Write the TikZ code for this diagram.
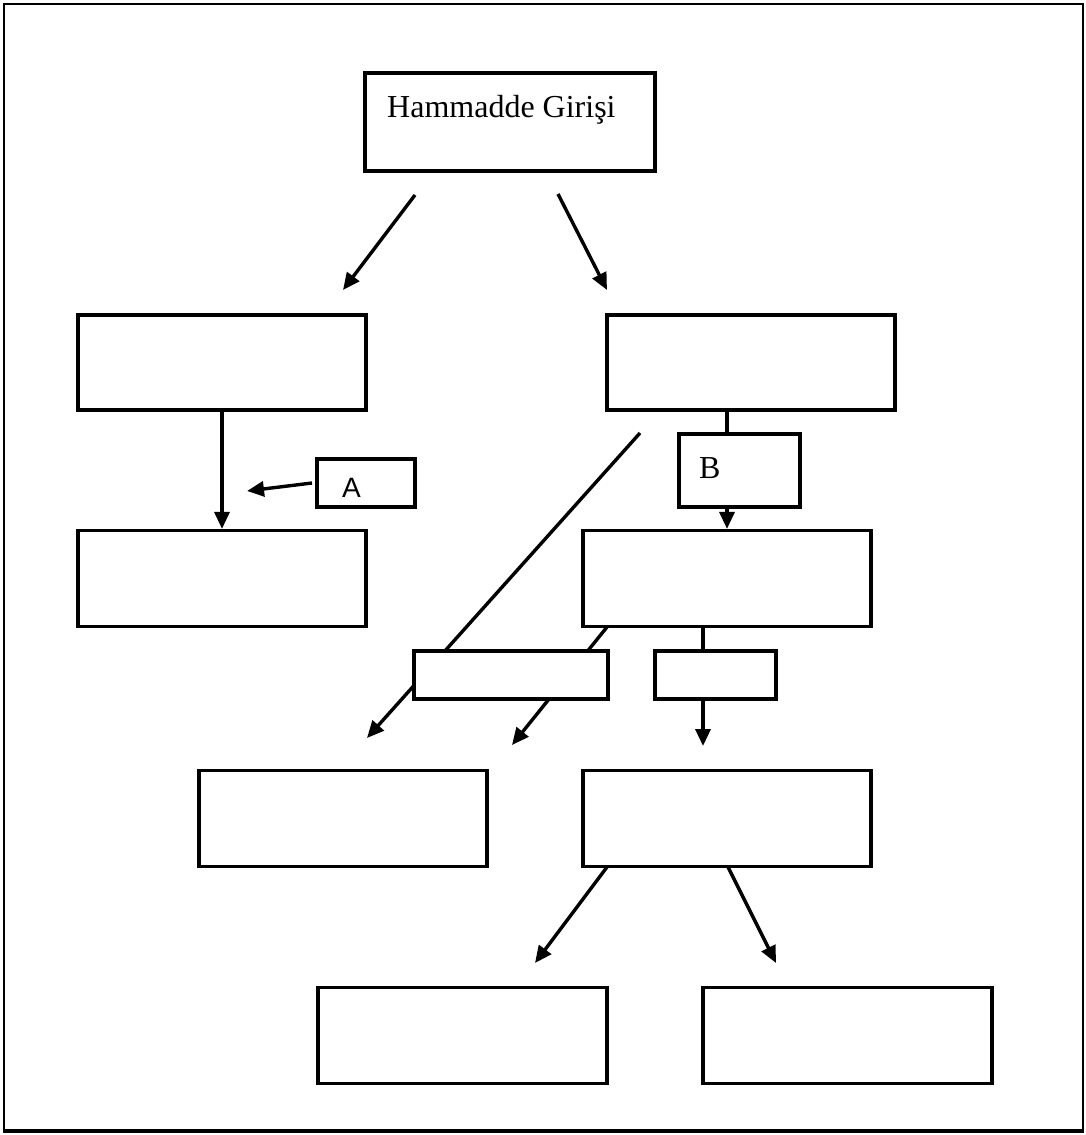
\documentclass[tikz,border=0pt]{standalone}
\usepackage{fontspec}
\setmainfont{Liberation Serif}
\setsansfont{Liberation Sans}
\usetikzlibrary{arrows.meta,backgrounds,calc}
\begin{document}
\begin{tikzpicture}[x=1pt,y=-1pt,
  box/.style={draw,line width=3.2pt,fill=white,inner sep=0pt,minimum width=288pt,minimum height=96pt},
  smallbox/.style={draw,line width=3.2pt,fill=white,inner sep=0pt,minimum height=48pt},
  conn/.style={line width=3.4pt},
  arr/.style={line width=3.4pt,-{Triangle[length=17pt,width=15pt]}},
  lbl/.style={inner sep=0pt,anchor=base west}]
\useasboundingbox (0,0) rectangle (1086,1135);
\draw[line width=2pt] (4,4) rectangle (1083,1131);
\draw[line width=4pt] (3,1131) -- (1084,1131);

% nodes
\node[box,minimum width=290pt,minimum height=98pt] (top) at (510,122) {};
\node[lbl,font=\fontsize{32}{38}\selectfont] (title) at (387,117) {Hammadde Girişi};
\node[box,minimum height=95pt] (L1) at (222,362.5) {};
\node[box,minimum height=95pt] (R1) at (751,362.5) {};
\node[box] (L2) at (222,578.5) {};
\node[box] (R2) at (727,578.5) {};
\node[smallbox,minimum width=98pt] (A) at (366,483) {};
\node[lbl,font=\sffamily\fontsize{28}{32}\selectfont] (Atext) at (342,497) {A};
\node[smallbox,minimum width=121pt,minimum height=73pt] (B) at (739.5,470.5) {};
\node[lbl,font=\fontsize{32}{36}\selectfont] (Btext) at (699,478) {B};
\node[smallbox,minimum width=194pt] (W) at (511,675) {};
\node[smallbox,minimum width=121pt] (S) at (715.5,675) {};
\node[box] (M3) at (343,818.5) {};
\node[box] (R3) at (727,818.5) {};
\node[box,minimum width=289pt] (L4) at (462.5,1035.5) {};
\node[box,minimum width=289pt] (R4) at (847.5,1035.5) {};

% free connector ends
\coordinate (t1s) at (415,195);
\coordinate (t1e) at (343,290);
\coordinate (t2s) at (558,194);
\coordinate (t2e) at (607,290);
\coordinate (As) at (312,483);
\coordinate (Ae) at (247,491);
\coordinate (d1s) at (640,433);
\coordinate (d1e) at (367,738);
\coordinate (d2s) at (607,627);
\coordinate (d2e) at (512,745);
\coordinate (Sx) at (703,627);
\coordinate (Se) at (703,746);
\coordinate (r3a) at (607,867);
\coordinate (r3ae) at (535,963);
\coordinate (r3b) at (728,867);
\coordinate (r3be) at (776,963);

\begin{scope}[on background layer]
\draw[arr] (t1s) -- (t1e);
\draw[arr] (t2s) -- (t2e);
\draw[arr] (L1) -- (L2);
\draw[arr] (As) -- (Ae);
\draw[conn] (R1.south -| R2.north) -- (B.north -| R2.north);
\draw[arr] (B.south -| R2.north) -- (R2.north);
\draw[arr] (d1s) -- (d1e);
\draw[arr] (d2s) -- (d2e);
\draw[conn] (Sx) -- (Sx |- S.north);
\draw[arr] (Sx |- S.south) -- (Se);
\draw[arr] (r3a) -- (r3ae);
\draw[arr] (r3b) -- (r3be);
\end{scope}
\end{tikzpicture}
\end{document}
